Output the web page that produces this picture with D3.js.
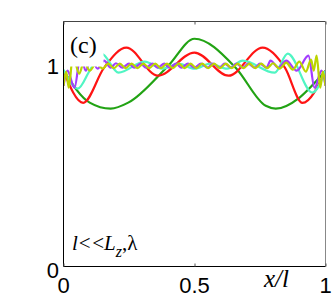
<!DOCTYPE html>
<html lang='en'>
  <head>
    <style type='text/css'>
      body {margin: 0; background-color: #fff;}
      #visualization {width: 332px; height: 303px;}
      .tick-label {font-family: "Liberation Sans", Arial, sans-serif; font-size: 22px; fill: #000;}
      .serif {font-family: "Liberation Serif", "Times New Roman", serif; font-weight: normal; fill: #000;}
    </style>
  </head>
  <body>

    <div id='visualization'>
      <svg width='332' height='303'></svg>
    </div>

    <script src='https://d3js.org/d3.v7.min.js'></script>
    <script type='text/javascript'>
        // data, [x/l, value]
        var green = [[0,0.975],[0.1,0.816],[0.18,0.786],[0.247,0.816],[0.4,1.0],[0.5,1.134],
                     [0.657,0.99],[0.772,0.8],[0.81,0.786],[0.9,0.84],[0.966,0.925],[1,0.975]];
        var red = [[0,0.975],[0.075,0.815],[0.155,0.99],[0.24,1.09],[0.36,0.95],[0.5,1.065],
                   [0.63,0.95],[0.76,1.09],[0.845,0.99],[0.912,0.815],[1,0.975]];
        var cyan = [[0,0.98],[0.055,0.886],[0.1,0.975],[0.145,1.06],[0.21,0.965],[0.31,1.02],
                    [0.375,0.985],[0.44,1.01],[0.5,0.985],[0.56,1.01],[0.625,0.985],[0.684,1.025],
                    [0.806,0.965],[0.856,1.06],[0.95,0.866],[1,0.975]];
        var purple = [[0,0.9],[0.015,0.975],[0.042,0.89],[0.065,1.05],[0.085,0.975],[0.105,1.035],
                      [0.13,0.985],[0.155,1.025],[0.18,0.99],[0.2,1.012],[0.225,0.99],[0.25,1.01],
                      [0.27,0.99],[0.295,1.01],[0.315,0.99],[0.34,1.01],[0.36,0.99],[0.385,1.01],
                      [0.405,0.99],[0.43,1.01],[0.45,0.99],[0.475,1.01],[0.5,0.99],[0.525,1.01],
                      [0.55,0.99],[0.57,1.01],[0.595,0.99],[0.615,1.01],[0.64,0.99],[0.66,1.01],
                      [0.685,0.99],[0.705,1.01],[0.73,0.99],[0.75,1.01],[0.775,0.99],[0.79,1.025],
                      [0.82,0.99],[0.85,1.025],[0.89,0.975],[0.935,1.05],[0.958,0.89],[0.985,0.975],[1,0.9]];
        var yellow = [[0,0.9],[0.01,0.97],[0.02,0.89],[0.036,1.05],[0.06,0.96],[0.078,1.02],
                      [0.1,0.975],[0.125,1.012],[0.15,0.985],[0.17,1.01],[0.192,0.988],[0.215,1.01],
                      [0.237,0.988],[0.26,1.01],[0.282,0.988],[0.305,1.01],[0.327,0.988],[0.35,1.01],
                      [0.372,0.988],[0.395,1.01],[0.417,0.988],[0.44,1.01],[0.462,0.988],[0.485,1.01],
                      [0.507,0.988],[0.53,1.01],[0.552,0.988],[0.575,1.01],[0.597,0.988],[0.62,1.01],
                      [0.642,0.988],[0.665,1.01],[0.687,0.988],[0.71,1.01],[0.732,0.988],[0.755,1.01],
                      [0.777,0.988],[0.8,1.012],[0.825,0.985],[0.85,1.015],[0.875,0.98],[0.9,1.02],
                      [0.925,0.97],[0.945,1.03],[0.955,0.975],[0.966,1.05],[0.98,0.89],[0.99,0.97],[1,0.9]];
        var series = [
          {name: "green", color: "#22a314", values: green},
          {name: "red", color: "#ff1414", values: red},
          {name: "cyan", color: "#50f5c3", values: cyan},
          {name: "purple", color: "#a33dff", values: purple},
          {name: "yellow", color: "#bcd400", values: yellow}
        ];
        var xTicks = [0, 0.5, 1];
        var yTicks = [0, 1];

        var svg = d3.select("#visualization svg");
        var box = {left: 63.5, right: 325.5, top: 21.5, bottom: 266.5};

        var x = d3.scaleLinear().domain([0, 1]).range([box.left, box.right]);
        var y = d3.scaleLinear().domain([0, 1.22]).range([box.bottom, box.top]);

        svg.append("defs").append("clipPath").attr("id", "clip")
          .append("rect").attr("x", box.left).attr("y", box.top)
          .attr("width", box.right - box.left).attr("height", box.bottom - box.top);

        var line = d3.line()
            .x(function(d) { return x(d[0]); })
            .y(function(d) { return y(d[1]); })
            .curve(d3.curveMonotoneX);

        var plot = svg.append("g").attr("clip-path", "url(#clip)");
        plot.selectAll(".curve")
          .data(series)
          .enter().append("path")
            .attr("class", "curve")
            .attr("fill", "none")
            .attr("stroke", function(d) { return d.color; })
            .attr("stroke-width", 2.2)
            .attr("d", function(d) { return line(d.values); });

        // white box behind the panel label hides the lines there
        svg.append("rect")
            .attr("x", box.left).attr("y", box.top)
            .attr("width", 40).attr("height", 45)
            .attr("fill", "#fff");
        svg.append("text").attr("class", "serif")
            .attr("x", 70).attr("y", 53)
            .style("font-size", "24px")
            .text("(c)");

        // axes box
        svg.append("line").attr("x1", box.left).attr("x2", box.right).attr("y1", box.top).attr("y2", box.top)
            .attr("stroke", "#444");
        svg.append("line").attr("x1", box.right).attr("x2", box.right).attr("y1", box.top).attr("y2", box.bottom)
            .attr("stroke", "#888");
        svg.append("line").attr("x1", box.left).attr("x2", box.left).attr("y1", box.top).attr("y2", box.bottom)
            .attr("stroke", "#000");
        svg.append("line").attr("x1", box.left).attr("x2", box.right).attr("y1", box.bottom).attr("y2", box.bottom)
            .attr("stroke", "#000");

        // ticks pointing inwards
        svg.append("g")
            .attr("transform", "translate(0," + box.bottom + ")")
            .call(d3.axisBottom(x).tickValues(xTicks).tickSize(-3).tickFormat(""))
            .call(function(g) { g.select(".domain").remove(); g.selectAll("line").attr("stroke", "#555"); });
        svg.append("g")
            .attr("transform", "translate(0," + box.top + ")")
            .call(d3.axisTop(x).tickValues(xTicks).tickSize(-3).tickFormat(""))
            .call(function(g) { g.select(".domain").remove(); g.selectAll("line").attr("stroke", "#555"); });

        svg.selectAll(".xlab")
          .data(xTicks)
          .enter().append("text")
            .attr("class", "tick-label xlab")
            .attr("x", function(d) { return x(d); })
            .attr("y", 293)
            .attr("text-anchor", "middle")
            .text(function(d) { return d; });

        svg.selectAll(".ylab")
          .data(yTicks)
          .enter().append("text")
            .attr("class", "tick-label ylab")
            .attr("x", 59)
            .attr("y", function(d) { return y(d) + 8 + (d === 0 ? 3 : 0); })
            .attr("text-anchor", "end")
            .text(function(d) { return d; });

        // axis label
        svg.append("text").attr("class", "serif")
            .attr("x", 264).attr("y", 287)
            .style("font-size", "25px").style("font-style", "italic")
            .text("x/l");

        // regime annotation
        var note = svg.append("text").attr("class", "serif")
            .attr("x", 72).attr("y", 250)
            .style("font-size", "21px");
        note.append("tspan").style("font-style", "italic").text("l");
        note.append("tspan").attr("dx", 1).text("<");
        note.append("tspan").attr("dx", 1.5).text("<");
        note.append("tspan").style("font-style", "italic").text("L");
        note.append("tspan").style("font-style", "italic").style("font-size", "16px")
            .attr("dy", 7).text("z");
        note.append("tspan").attr("dy", -7).text(",λ");
    </script>
  </body>
</html>
